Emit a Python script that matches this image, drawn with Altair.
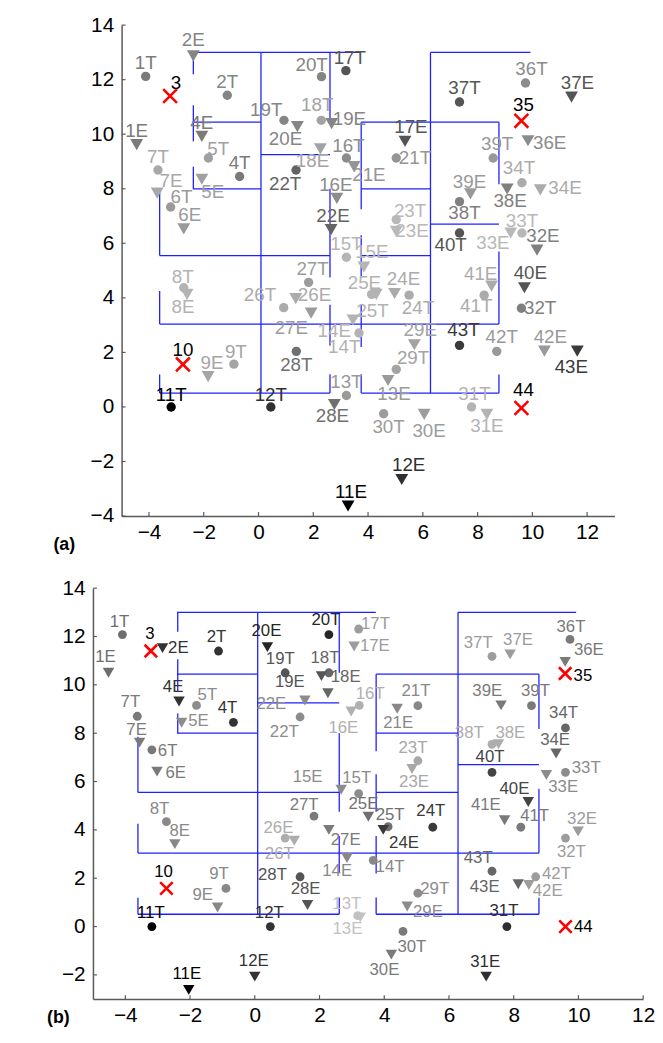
import altair as alt
import pandas as pd

# ---------------- data ----------------
IDS = [1, 2, 4, 5, 6, 7, 8, 9, 11, 12, 13, 14, 15, 16, 17, 18, 19, 20, 21, 22,
       23, 24, 25, 26, 27, 28, 29, 30, 31, 32, 33, 34, 36, 37, 38, 39, 40, 41, 42, 43]

# panel (a): T = circles, E = triangles
A_tx = [-4.12, -1.14, -0.69, -1.83, -3.21, -3.67, -2.73, -0.90, -3.19, 0.45, 3.21, 3.67, 3.21, 3.21, 3.19, 2.29, 0.93, 2.30, 5.03, 1.37,
        5.03, 5.50, 4.13, 0.92, 1.83, 1.38, 5.03, 4.57, 7.78, 9.60, 9.62, 9.62, 9.75, 7.34, 7.34, 8.57, 7.34, 8.24, 8.70, 7.34]
A_ty = [12.12, 11.43, 8.45, 9.13, 7.33, 8.69, 4.37, 1.57, 0.0, 0.0, 0.42, 2.71, 5.49, 9.13, 12.33, 10.51, 10.51, 12.11, 9.13, 8.69,
        6.87, 4.10, 4.13, 3.64, 4.57, 2.04, 1.38, -0.25, 0.0, 3.62, 6.38, 8.22, 11.88, 11.18, 7.53, 9.13, 6.38, 4.10, 2.04, 2.26]
A_ex = [-4.45, -2.38, -2.07, -2.07, -2.73, -3.70, -2.61, -1.84, 3.27, 5.23, 4.73, 3.45, 3.85, 2.86, 5.35, 2.26, 2.67, 1.42, 3.49, 2.65,
        5.03, 4.97, 4.30, 1.36, 1.92, 2.77, 5.69, 6.05, 8.34, 10.17, 9.21, 10.29, 9.84, 11.43, 9.08, 7.74, 9.71, 8.51, 10.44, 11.64]
A_ey = [9.62, 12.87, 9.92, 8.35, 6.53, 7.84, 4.13, 1.11, -3.63, -2.66, 0.97, 3.19, 5.13, 7.65, 9.74, 9.46, 10.39, 10.28, 8.81, 6.50,
        6.44, 4.16, 4.13, 3.97, 3.44, 0.09, 2.28, -0.27, -0.27, 5.75, 6.38, 7.96, 9.76, 11.36, 7.99, 7.81, 4.37, 4.43, 2.05, 2.05]
A_shade = ["#7a7a7a", "#858585", "#7a7a7a", "#a0a0a0", "#9a9a9a", "#a8a8a8", "#b3b3b3", "#a5a5a5", "#000000", "#303030",
           "#9a9a9a", "#b3b3b3", "#b5b5b5", "#8c8c8c", "#555555", "#a3a3a3", "#858585", "#858585", "#959595", "#636363",
           "#b8b8b8", "#ababab", "#b3b3b3", "#ababab", "#9c9c9c", "#707070", "#a3a3a3", "#9c9c9c", "#b3b3b3", "#7f7f7f",
           "#b8b8b8", "#ababab", "#8c8c8c", "#555555", "#808080", "#999999", "#555555", "#ababab", "#999999", "#3a3a3a"]

# panel (b)
B_tx = [-4.09, -1.12, -0.66, -1.80, -3.18, -3.63, -2.73, -0.89, -3.18, 0.48, 3.18, 3.66, 3.21, 3.23, 3.21, 2.29, 0.94, 2.29, 5.04, 1.40,
        5.04, 5.50, 4.12, 0.94, 1.83, 1.40, 5.04, 4.58, 7.79, 9.60, 9.60, 9.60, 9.74, 7.33, 7.33, 8.55, 7.33, 8.22, 8.68, 7.33]
B_ty = [12.08, 11.40, 8.45, 9.15, 7.31, 8.70, 4.34, 1.58, 0.0, 0.0, 0.45, 2.74, 5.50, 9.15, 12.31, 10.50, 10.50, 12.08, 9.14, 8.67,
        6.86, 4.11, 4.13, 3.66, 4.57, 2.06, 1.38, -0.20, 0.0, 3.66, 6.38, 8.22, 11.88, 11.18, 7.54, 9.14, 6.38, 4.11, 2.06, 2.29]
B_ex = [-4.52, -2.85, -2.34, -2.26, -3.02, -3.56, -2.47, -1.15, -2.04, 0.0, 3.26, 2.85, 2.67, 2.98, 3.07, 2.26, 2.06, 0.39, 4.40, 1.55,
        4.86, 3.97, 3.51, 1.22, 2.29, 1.63, 4.71, 4.22, 7.15, 9.99, 9.01, 9.31, 9.59, 7.89, 7.53, 7.61, 8.45, 7.72, 8.47, 8.14]
B_ey = [10.50, 11.52, 9.31, 8.43, 6.41, 7.61, 3.41, 0.79, -2.62, -2.07, 0.38, 2.84, 5.66, 8.90, 11.59, 9.65, 10.36, 11.56, 9.01, 9.35,
        6.52, 4.00, 4.54, 3.55, 4.00, 0.89, 0.83, -1.16, -2.07, 3.93, 6.27, 7.16, 10.95, 11.26, 7.54, 9.15, 5.15, 4.40, 1.72, 1.75]
B_shade = ["#6e6e6e", "#333333", "#333333", "#8c8c8c", "#7a7a7a", "#7a7a7a", "#888888", "#888888", "#000000", "#333333",
           "#c2c2c2", "#888888", "#8c8c8c", "#b0b0b0", "#9c9c9c", "#666666", "#555555", "#262626", "#888888", "#8c8c8c",
           "#a8a8a8", "#3a3a3a", "#707070", "#adadad", "#7a7a7a", "#555555", "#8c8c8c", "#7a7a7a", "#2e2e2e", "#9c9c9c",
           "#8c8c8c", "#666666", "#7a7a7a", "#9c9c9c", "#adadad", "#7a7a7a", "#444444", "#7a7a7a", "#9c9c9c", "#666666"]

# red crosses
X_IDS = ["3", "10", "35", "44"]
A_xx = [-3.23, -2.76, 9.60, 9.60]
A_xy = [11.40, 1.56, 10.49, -0.04]
B_xx = [-3.21, -2.73, 9.59, 9.60]
B_xy = [11.40, 1.58, 10.47, 0.0]

# walls (same floor plan in both panels): x1, y1, x2, y2
WALL_X1 = [-2.40, 6.28, -2.40, 3.75, 0.09, -2.40, 3.75, 6.28, -3.61, 3.75, -3.61, -3.61, 3.75,
           -2.38, -2.38, -2.38, 0.09, 2.61, 2.61, 2.61, 2.61, 3.75, 3.75, 3.75, 3.75, 6.28, 8.78, 8.78, 8.78, -3.61, -3.61, -3.61]
WALL_Y1 = [13.0, 13.0, 10.44, 10.44, 9.25, 8.0, 8.0, 6.70, 5.55, 5.55, 3.04, 0.51, 0.51,
           13.0, 11.06, 8.81, 13.0, 13.0, 8.0, 3.75, 1.20, 10.44, 6.30, 3.75, 1.20, 13.0, 10.44, 5.70, 1.19, 7.85, 4.25, 1.19]
WALL_X2 = [3.74, 9.93, 0.09, 8.78, 2.61, 0.09, 6.28, 8.78, 2.61, 6.28, 8.78, 2.61, 8.78,
           -2.38, -2.38, -2.38, 0.09, 2.61, 2.61, 2.61, 2.61, 3.75, 3.75, 3.75, 3.75, 6.28, 8.78, 8.78, 8.78, -3.61, -3.61, -3.61]
WALL_Y2 = [13.0, 13.0, 10.44, 10.44, 9.25, 8.0, 8.0, 6.70, 5.55, 5.55, 3.04, 0.51, 0.51,
           12.2, 9.74, 8.0, 0.51, 10.5, 4.75, 2.25, 0.51, 7.25, 4.75, 2.20, 0.51, 0.51, 8.17, 3.04, 0.51, 5.55, 3.04, 0.51]

A_XTICKS = [-4, -2, 0, 2, 4, 6, 8, 10, 12]
A_YTICKS = [-4, -2, 0, 2, 4, 6, 8, 10, 12, 14]
B_XTICKS = [-4, -2, 0, 2, 4, 6, 8, 10, 12]
B_YTICKS = [-2, 0, 2, 4, 6, 8, 10, 12, 14]

# ---------------- label placement (pixel offsets of label centre from marker) ----------------
A_OFF = {"1T": (0, -13), "1E": (0, -14), "2T": (0, -13), "2E": (0, -16), "3": (6, -13), "4T": (0, -14), "4E": (0, -13),
         "5T": (10, -9), "5E": (11, 13), "6T": (11, -10), "6E": (6, -14), "7T": (0, -13), "7E": (14, -12), "8T": (-1, -11),
         "8E": (-4, 13), "9T": (2, -12), "9E": (4, -14), "10": (0, -15), "11T": (0, -12), "11E": (3, -14), "12T": (0, -12),
         "12E": (7, -15), "13T": (0, -14), "13E": (6, 14), "14T": (-15, 14), "14E": (-19, 11), "15T": (0, -13), "15E": (8, -15),
         "16T": (2, -12), "16E": (-1, -13), "17T": (4, -13), "17E": (6, -14), "18T": (-4, -15), "18E": (-8, 12), "19T": (-18, -10),
         "19E": (18, -5), "20T": (-10, -12), "20E": (-12, 13), "21T": (19, 0), "21E": (15, 8), "22T": (-11, 14), "22E": (2, -14),
         "23T": (14, -9), "23E": (16, 0), "24T": (9, 13), "24E": (9, -15), "25T": (1, 17), "25E": (-12, -11), "26T": (-24, -13),
         "26E": (19, -4), "27T": (4, -13), "27E": (-20, 15), "28T": (0, 14), "28E": (-2, 12), "29T": (17, -11), "29E": (6, -15),
         "30T": (5, 13), "30E": (5, 17), "31T": (3, -13), "31E": (0, 12), "32T": (19, 0), "32E": (6, -14), "33T": (0, -12),
         "33E": (-18, 10), "34T": (-3, -15), "34E": (25, -2), "35": (2, -16), "36T": (6, -14), "36E": (22, 2), "37T": (5, -14),
         "37E": (6, -14), "38T": (5, 12), "38E": (3, 12), "39T": (4, -14), "39E": (-1, -12), "40T": (-9, 12), "40E": (6, -15),
         "41T": (-8, 11), "41E": (-11, -12), "42T": (5, -14), "42E": (6, -14), "43T": (4, -15), "43E": (-6, 16), "44": (2, -18)}
B_OFF = {"1T": (-3, -13), "1E": (-3, -16), "2T": (-2, -14), "2E": (16, 0), "3": (-1, -17), "4T": (-6, -14), "4E": (-6, -15),
         "5T": (11, -10), "5E": (17, -2), "6T": (16, 1), "6E": (19, 1), "7T": (-7, -14), "7E": (-3, -13), "8T": (-7, -13),
         "8E": (5, -13), "9T": (-7, -14), "9E": (-15, -13), "10": (-3, -17), "11T": (-1, -14), "11E": (-2, -16), "12T": (-1, -14),
         "12E": (-1, -16), "13T": (-11, -12), "13E": (-13, 12), "14T": (17, 7), "14E": (-10, 13), "15T": (-2, -16), "15E": (-34, -13),
         "16T": (11, -11), "16E": (-8, 17), "17T": (17, -5), "17E": (21, 0), "18T": (-4, -15), "18E": (18, -16), "19T": (-5, -14),
         "19E": (-32, 6), "20T": (-3, -15), "20E": (-1, -16), "21T": (-2, -15), "21E": (1, 14), "22T": (-16, 15), "22E": (-34, 4),
         "23T": (-5, -13), "23E": (2, 13), "24T": (-2, -16), "24E": (21, 13), "25T": (2, -12), "25E": (-5, -13), "26T": (-6, 16),
         "26E": (-16, -13), "27T": (-10, -11), "27E": (17, 10), "28T": (-28, -2), "28E": (-2, -16), "29T": (17, -4), "29E": (21, 6),
         "30T": (9, 16), "30E": (-7, 16), "31T": (-3, -16), "31E": (-1, -15), "32T": (6, 14), "32E": (4, -13), "33T": (21, -4),
         "33E": (17, 12), "34T": (-2, -15), "34E": (-1, -14), "35": (18, 3), "36T": (1, -13), "36E": (24, -12), "37T": (-14, -13),
         "37E": (8, -15), "38T": (-23, -11), "38E": (12, -11), "39T": (4, -15), "39E": (-14, -15), "40T": (-2, -15), "40E": (-14, -13),
         "41T": (14, -11), "41E": (-19, -15), "42T": (21, -3), "42E": (19, 6), "43T": (-14, -13), "43E": (-34, 3), "44": (18, 1)}

FONT = "Liberation Sans"
AXIS_COLOR = "#5a5a5a"
X_PATH = "M-1,-1L1,1M-1,1L1,-1"


def panel(tx, ty, ex, ey, shades, xx, xy, off, W, H, xdom, ydom, xticks, yticks,
          fs, csize, tsize, xsize, tag, tag_x, tag_y):
    ppx = W / (xdom[1] - xdom[0])
    ppy = H / (ydom[1] - ydom[0])
    rows = []
    for i, n in enumerate(IDS):
        for kind, x, y in (("T", tx[i], ty[i]), ("E", ex[i], ey[i])):
            lab = f"{n}{kind}"
            dx, dy = off[lab]
            rows.append(dict(kind=kind, x=x, y=y, c=shades[i], lab=lab,
                             lx=x + dx / ppx, ly=y - dy / ppy))
    for n, x, y in zip(X_IDS, xx, xy):
        dx, dy = off[n]
        rows.append(dict(kind="X", x=x, y=y, c="#000000", lab=n,
                         lx=x + dx / ppx, ly=y - dy / ppy))
    df = pd.DataFrame(rows)

    xs = alt.Scale(domain=xdom, nice=False, zero=False)
    ys = alt.Scale(domain=ydom, nice=False, zero=False)
    xax = alt.Axis(values=xticks, ticks=False, grid=False, title=None, domainColor=AXIS_COLOR,
                   domainWidth=1.5, labelFontSize=21, labelFont=FONT, labelColor="black",
                   labelPadding=6, labelOverlap=False, labelFlush=False, labelBound=False)
    yax = alt.Axis(values=yticks, ticks=False, grid=False, title=None, domainColor=AXIS_COLOR,
                   domainWidth=1.5, labelFontSize=21, labelFont=FONT, labelColor="black",
                   labelPadding=8, labelOverlap=False, labelBound=False)

    walls_df = pd.DataFrame({"x1": WALL_X1, "y1": WALL_Y1, "x2": WALL_X2, "y2": WALL_Y2})
    walls = alt.Chart(walls_df).mark_rule(color="#1f1fff", strokeWidth=1.3).encode(
        x=alt.X("x1:Q", scale=xs, axis=xax), y=alt.Y("y1:Q", scale=ys, axis=yax),
        x2="x2:Q", y2="y2:Q")

    xt = alt.Chart(pd.DataFrame({"t": xticks})).mark_rule(color=AXIS_COLOR, strokeWidth=1.2).encode(
        x=alt.X("t:Q", scale=xs), y=alt.value(H), y2=alt.value(H - 4))
    yt = alt.Chart(pd.DataFrame({"t": yticks})).mark_rule(color=AXIS_COLOR, strokeWidth=1.2).encode(
        y=alt.Y("t:Q", scale=ys), x=alt.value(0), x2=alt.value(4))

    base = alt.Chart(df)
    circles = base.transform_filter(alt.datum.kind == "T").mark_point(
        shape="circle", filled=True, size=csize, opacity=1).encode(
        x=alt.X("x:Q", scale=xs), y=alt.Y("y:Q", scale=ys), color=alt.Color("c:N", scale=None))
    tris = base.transform_filter(alt.datum.kind == "E").mark_point(
        shape="triangle-down", filled=True, size=tsize, opacity=1).encode(
        x=alt.X("x:Q", scale=xs), y=alt.Y("y:Q", scale=ys), color=alt.Color("c:N", scale=None))
    crosses = base.transform_filter(alt.datum.kind == "X").mark_point(
        shape=X_PATH, filled=False, size=xsize, strokeWidth=2.6, color="#ff0000", opacity=1).encode(
        x=alt.X("x:Q", scale=xs), y=alt.Y("y:Q", scale=ys))
    labels = base.mark_text(font=FONT, fontSize=fs, align="center", baseline="middle").encode(
        x=alt.X("lx:Q", scale=xs), y=alt.Y("ly:Q", scale=ys), text="lab:N",
        color=alt.Color("c:N", scale=None))
    tagc = alt.Chart(pd.DataFrame({"t": [tag]})).mark_text(
        font=FONT, fontSize=18, fontWeight="bold", align="center", baseline="middle", color="black").encode(
        x=alt.value(tag_x), y=alt.value(tag_y), text="t:N")

    return alt.layer(walls, xt, yt, circles, tris, crosses, labels, tagc).properties(width=W, height=H)


pa = panel(A_tx, A_ty, A_ex, A_ey, A_shade, A_xx, A_xy, A_OFF, 499, 497, [-5, 13], [-4, 14],
           A_XTICKS, A_YTICKS, 19, 90, 170, 196, "(a)", -58, 526)
pb = panel(B_tx, B_ty, B_ex, B_ey, B_shade, B_xx, B_xy, B_OFF, 557, 416, [-5, 12], [-3, 14],
           B_XTICKS, B_YTICKS, 17, 80, 135, 160, "(b)", -35, 435)

chart = alt.vconcat(pa, pb, spacing=73, center=True, bounds="flush").properties(
    padding={"left": 39, "top": 0, "right": 0, "bottom": 0}
).configure_view(stroke=None)

chart.save("out.html", embed_options={"renderer": "svg", "actions": False})
